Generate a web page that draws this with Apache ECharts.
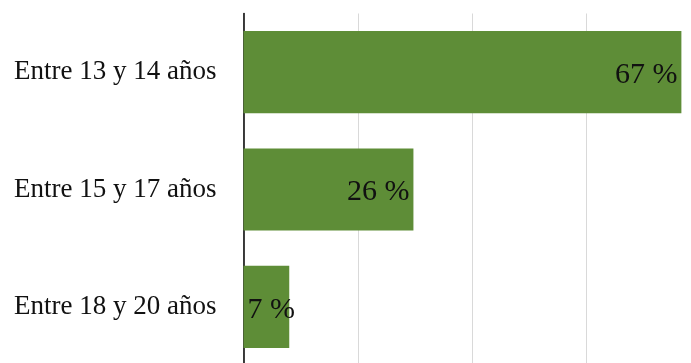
<!DOCTYPE html>
<html>
<head>
<meta charset="utf-8">
<script src="https://cdn.jsdelivr.net/npm/echarts@6/dist/echarts.min.js"></script>
<style>
  html, body { margin: 0; padding: 0; background: #ffffff; }
  #chart { width: 691px; height: 363px; }
</style>
</head>
<body>
<div id="chart"></div>
<script>
// Age groups and share of respondents (%)
const categories = ['Entre 13 y 14 años', 'Entre 15 y 17 años', 'Entre 18 y 20 años'];
const shares = [67, 26, 7];

const serif = '"Liberation Serif", "Times New Roman", serif';
const chart = echarts.init(document.getElementById('chart'), null, { renderer: 'canvas' });

chart.setOption({
  animation: false,
  backgroundColor: '#ffffff',
  grid: {
    left: 243.5, top: 13.5, width: 457.5, height: 352,
    containLabel: false,
    outerBoundsMode: 'none'
  },
  xAxis: {
    type: 'value',
    min: 0,
    max: 70,
    interval: 17.5,
    axisLine: { show: false },
    axisTick: { show: false },
    axisLabel: { show: false },
    splitLine: { show: true, lineStyle: { color: '#d9d9d9', width: 1 } }
  },
  yAxis: {
    type: 'category',
    inverse: true,
    data: categories,
    axisLine: { show: true, lineStyle: { color: '#000000', width: 1.5 } },
    axisTick: { show: false },
    axisLabel: {
      margin: 27,
      color: '#111111',
      fontFamily: serif,
      fontSize: 27,
      padding: [3, 0, 0, 0]
    }
  },
  series: [{
    type: 'bar',
    barCategoryGap: '30%',
    data: shares.map((v, i) => ({
      value: v,
      // the smallest bar keeps its label anchored at the bar start
      label: i === shares.length - 1 ? { position: 'insideLeft', distance: 4 } : undefined
    })),
    itemStyle: { color: '#5e8d37' },
    label: {
      show: true,
      position: 'insideRight',
      distance: 4,
      offset: [0, 3],
      color: '#111111',
      fontFamily: serif,
      fontSize: 30,
      formatter: p => p.value + ' %'
    }
  }]
});
</script>
</body>
</html>
